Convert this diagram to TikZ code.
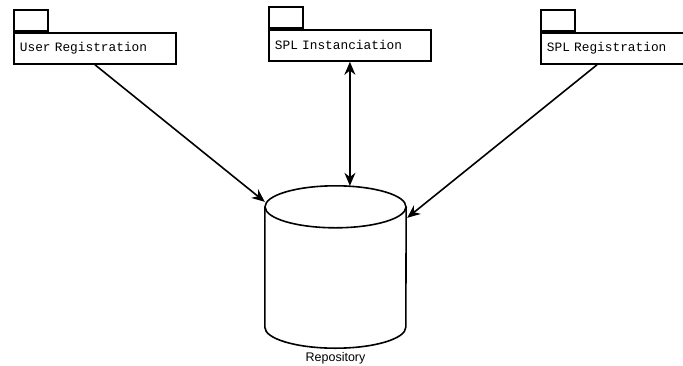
\documentclass[tikz,border=0pt]{standalone}
\usepackage{fontspec}
\setmainfont{Liberation Sans}
\setmonofont{Liberation Mono}
\usetikzlibrary{arrows.meta,positioning,calc}

\begin{document}
\begin{tikzpicture}[x=1pt, y=-1pt,
    pkgbody/.style={draw, line width=1.8pt, fill=white, minimum height=31pt,
                    text width=150pt, inner xsep=6pt, align=left,
                    font=\fontsize{12.8}{14}\selectfont\ttfamily, anchor=north west},
    pkgtab/.style={draw, line width=1.8pt, fill=white, minimum width=34pt,
                   minimum height=21pt, inner sep=0pt, anchor=south west},
    dbline/.style={line width=1.6pt},
    flow/.style={line width=1.6pt, -{Stealth[length=13pt,width=11pt]}},
    flowboth/.style={line width=1.6pt, {Stealth[length=13pt,width=11pt]}-{Stealth[length=13pt,width=11pt]}}]
  \useasboundingbox (0,0) rectangle (683,365);
  \clip (0,0) rectangle (683,365);

  \node[pkgbody] (ur) at (13,32) {User Registration};
  \node[pkgtab] (urtab) at (ur.north west) {};

  \node[pkgbody] (si) at (268,29) {SPL Instanciation};
  \node[pkgtab] (sitab) at (si.north west) {};

  \node[pkgbody] (sr) at (540,32) {SPL Registration};
  \node[pkgtab] (srtab) at (sr.north west) {};

  % repository drum
  \node[minimum width=141pt, minimum height=162pt, inner sep=0pt] (repo) at (335.5,267) {};
  \draw[dbline] ($(repo.north west)+(0,21)$) -- ($(repo.south west)+(0,-21)$)
    arc[start angle=180, end angle=360, x radius=70.5pt, y radius=21pt]
    -- ($(repo.north east)+(0,21)$);
  \draw[dbline] ($(repo.north)+(0,21)$) ellipse [x radius=70.5pt, y radius=21pt];
  \node[font=\fontsize{12.5}{14}\selectfont] (replabel) at (335.5,358.5) {Repository};

  \draw[flow] ([xshift=82pt]ur.south west) -- ([yshift=-16pt]repo.north west);
  \draw[flowboth] (si.south) -- (si.south |- repo.north);
  \draw[flow] ([xshift=57pt]sr.south west) -- ([xshift=1pt,yshift=-32pt]repo.north east);
\end{tikzpicture}
\end{document}
